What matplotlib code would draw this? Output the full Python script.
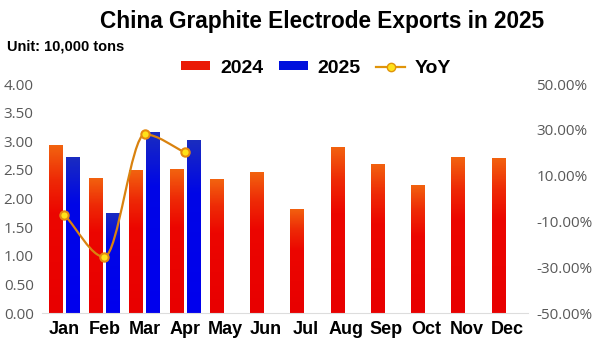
import numpy as np
import matplotlib
matplotlib.use("Agg")
import matplotlib.pyplot as plt
from matplotlib.path import Path
from matplotlib.patches import PathPatch, Patch
from matplotlib.lines import Line2D
from matplotlib.colors import LinearSegmentedColormap
from matplotlib.ticker import FuncFormatter, MultipleLocator

months = ["Jan", "Feb", "Mar", "Apr", "May", "Jun", "Jul", "Aug", "Sep", "Oct", "Nov", "Dec"]
exports_2024 = [2.93, 2.36, 2.49, 2.51, 2.34, 2.46, 1.82, 2.90, 2.61, 2.24, 2.72, 2.71]
exports_2025 = [2.73, 1.75, 3.17, 3.02]
yoy = [-7.0, -25.5, 28.0, 20.2]

plt.rcParams['font.family'] = ['Liberation Sans', 'DejaVu Sans']

fig = plt.figure(figsize=(6, 3.53), dpi=100)
ax = fig.add_axes([0.07, 0.1133, 0.81, 0.6487])
ax2 = ax.twinx()

red_cmap = LinearSegmentedColormap.from_list("r", [(0, "#e80000"), (0.6, "#ec0600"), (0.8, "#ee2a06"), (1, "#f2620f")])
blue_cmap = LinearSegmentedColormap.from_list("b", [(0, "#0000ee"), (0.7, "#0006e6"), (1, "#1a2cc0")])


#barras con degradado vertical
def gradient_bars(ax, xs, heights, width, cmap):
    bars = ax.bar(xs, heights, width=width, color="none", zorder=2)
    grad = np.linspace(0, 1, 100).reshape(-1, 1)
    for b in bars:
        x0, y0 = b.get_x(), b.get_y()
        im = ax.imshow(grad, cmap=cmap, aspect="auto", origin="lower",
                       extent=(x0, x0 + b.get_width(), y0, y0 + b.get_height()), zorder=2)
        im.set_clip_path(b)
    return bars


x = np.arange(len(months))
w = 0.34
gradient_bars(ax, x - 0.21, exports_2024, w, red_cmap)
gradient_bars(ax, np.arange(len(exports_2025)) + 0.21, exports_2025, w, blue_cmap)

ax.set_xlim(-0.55, 11.52)
ax.set_ylim(0, 4)
ax.yaxis.set_major_locator(MultipleLocator(0.5))
ax.yaxis.set_major_formatter(FuncFormatter(lambda v, p: f"{v:.2f}"))
ax.set_xticks(x)
ax.set_xticklabels(months, fontsize=13, fontweight="bold")

ax2.set_ylim(-50, 50)
ax2.set_yticks([-50, -30, -10, 10, 30, 50])
ax2.yaxis.set_major_formatter(FuncFormatter(lambda v, p: f"{v:.2f}%"))

for a in (ax, ax2):
    for s in a.spines.values():
        s.set_visible(False)
    a.tick_params(axis="y", length=0, labelsize=11, labelcolor="#595959",
                  labelfontfamily="Open Sans", pad=6)
ax.tick_params(axis="x", length=0, labelcolor="black", labelsize=13, pad=6)
ax.spines["bottom"].set_visible(True)
ax.spines["bottom"].set_color("#dddddd")
ax.set_zorder(1)
ax2.set_zorder(2)
ax.patch.set_visible(False)

#curva suave (monotona) para el YoY
xs = np.arange(len(yoy), dtype=float)
ys = np.array(yoy)
d = np.diff(ys) / np.diff(xs)
m = np.zeros_like(ys)
m[0], m[-1] = d[0], d[-1]
for i in range(1, len(ys) - 1):
    if d[i - 1] * d[i] > 0:
        m[i] = 2 / (1 / d[i - 1] + 1 / d[i])
verts = [(xs[0], ys[0])]
codes = [Path.MOVETO]
for i in range(len(ys) - 1):
    h = xs[i + 1] - xs[i]
    verts += [(xs[i] + h / 3, ys[i] + m[i] * h / 3),
              (xs[i + 1] - h / 3, ys[i + 1] - m[i + 1] * h / 3),
              (xs[i + 1], ys[i + 1])]
    codes += [Path.CURVE4] * 3
ax2.add_patch(PathPatch(Path(verts, codes), facecolor="none", edgecolor="#d9820f", lw=1.6, zorder=3))
ax2.plot(xs, ys, linestyle="none", marker="o", ms=6, mfc="#ffe21a", mec="#e58a10", mew=1.5, zorder=4)

fig.text(0.537, 0.94, "China Graphite Electrode Exports in 2025", ha="center", va="center",
         fontsize=16.3, fontweight="bold")
fig.text(0.012, 0.867, "Unit: 10,000 tons", ha="left", va="center", fontsize=10.5, fontweight="bold")

handles = [Patch(facecolor="#ea1a05", edgecolor="none"),
           Patch(facecolor="#0010dd", edgecolor="none"),
           Line2D([], [], color="#e0940a", lw=1.6, marker="o", ms=6, mfc="#ffe21a", mec="#e0940a")]
fig.legend(handles, ["2024", "2025", "YoY"], loc="center", bbox_to_anchor=(0.527, 0.807), ncol=3,
           frameon=False, prop={"weight": "bold", "size": 14}, handlelength=1.5, handleheight=0.35,
           handletextpad=0.5, columnspacing=0.8)

fig.savefig("out.png", dpi=100)
